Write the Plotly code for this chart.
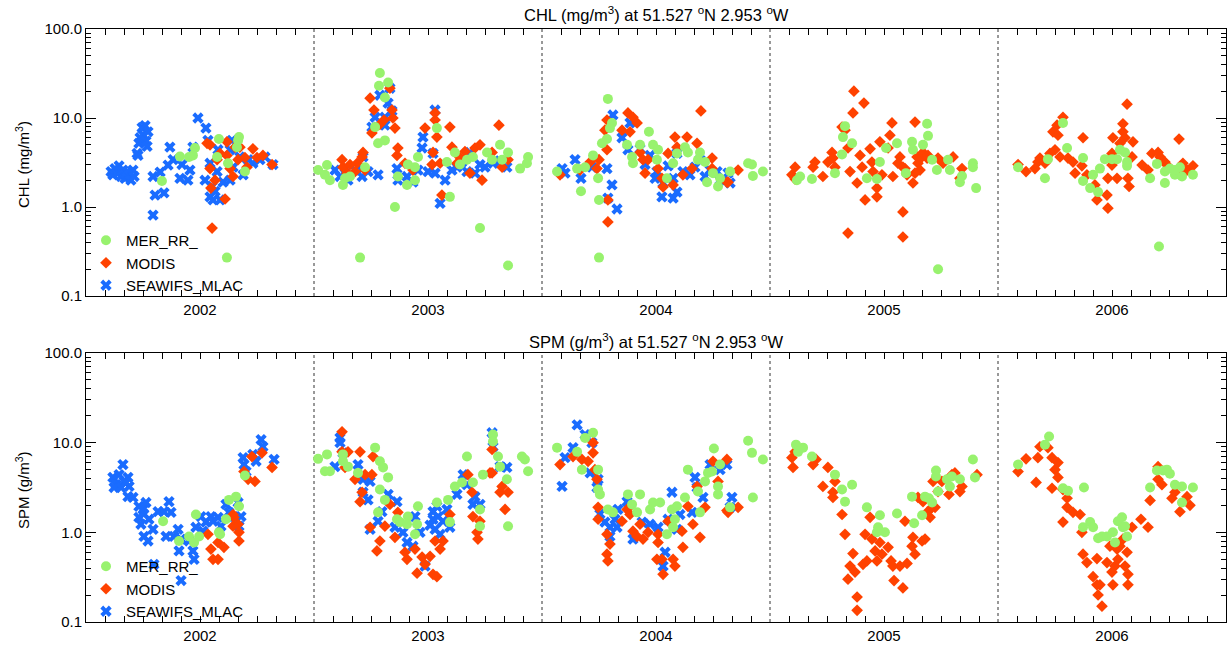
import plotly.graph_objects as go

# ---------------- DATA (decimal year, value) ----------------
years = [2002, 2003, 2004, 2005, 2006]
year_labels = ["2002", "2003", "2004", "2005", "2006"]
y_tick_vals = [0.1, 1, 10, 100]
y_tick_text = ["0.1", "1.0", "10.0", "100.0"]

# CHL (mg/m3)
chl_seawifs_t = [
    2002.110, 2002.118, 2002.127, 2002.136, 2002.145, 2002.154, 2002.162, 2002.171, 2002.180, 2002.189,
    2002.197, 2002.206, 2002.211, 2002.224, 2002.228, 2002.232, 2002.237, 2002.246, 2002.250, 2002.259,
    2002.263, 2002.268, 2002.272, 2002.294, 2002.303, 2002.294, 2002.342, 2002.325, 2002.368, 2002.360,
    2002.382, 2002.412, 2002.421, 2002.447, 2002.456, 2002.469, 2002.491, 2002.526, 2002.522, 2002.544,
    2002.557, 2002.588, 2002.544, 2002.575, 2002.579, 2002.601, 2002.632, 2002.632, 2002.645, 2002.675,
    2002.689, 2002.711, 2002.732, 2002.763, 2002.785, 2002.820, 2002.535, 2002.640, 2002.566, 2002.553,
    2003.092, 2003.114, 2003.149, 2003.180, 2003.211, 2003.215, 2003.211, 2003.281, 2003.254, 2003.268,
    2003.289, 2003.333, 2003.311, 2003.325, 2003.311, 2003.364, 2003.368, 2003.408, 2003.456, 2003.434,
    2003.478, 2003.474, 2003.531, 2003.522, 2003.531, 2003.553, 2003.575, 2003.627, 2003.671, 2003.684,
    2003.706, 2003.750, 2003.785, 2003.846, 2003.136, 2003.237, 2003.342, 2003.500, 2003.605, 2003.649,
    2003.728, 2003.816,
    2004.088, 2004.101, 2004.145, 2004.171, 2004.219, 2004.285, 2004.307, 2004.289, 2004.329, 2004.311,
    2004.351, 2004.377, 2004.386, 2004.474, 2004.504, 2004.496, 2004.531, 2004.526, 2004.575, 2004.592,
    2004.575, 2004.618, 2004.649, 2004.592, 2004.693, 2004.737, 2004.768, 2004.816, 2004.825, 2004.430,
    2004.452, 2004.553, 2004.671, 2004.715, 2004.781]
chl_seawifs_v = [
    2.5, 2.3, 2.7, 2.4, 2.9, 2.2, 2.6, 2.1, 2.5, 2.3,
    2.0, 2.6, 2.2, 4.0, 3.8, 5.2, 6.0, 7.8, 6.5, 8.2,
    5.5, 4.8, 7.0, 2.2, 1.36, 0.81, 1.44, 2.47, 4.7, 2.96,
    3.4, 2.1, 3.0, 2.0, 2.6, 4.7, 10, 7.7, 2.0, 1.3,
    1.2, 1.2, 3.1, 2.5, 4.4, 1.9, 2.0, 4.4, 2.8, 3.65,
    2.3, 3.4, 3.1, 3.4, 3.65, 3.0, 5.6, 5.6, 1.5, 1.7,
    2.6, 2.2, 2.0, 2.6, 2.2, 3.65, 2.7, 2.3, 7.9, 10.2,
    18, 21.6, 10.2, 14.7, 8.3, 2.7, 2.0, 2.2, 2.6, 1.9,
    6.1, 4.6, 12.3, 4.0, 2.4, 1.1, 2.0, 2.8, 2.5, 4.1,
    2.4, 2.8, 3.1, 2.8, 2.4, 2.5, 12, 2.5, 2.6, 3.2,
    3.0, 3.3,
    2.7, 2.4, 3.4, 2.1, 2.8, 2.7, 1.77, 1.26, 0.95, 10.8,
    6.0, 4.4, 8.8, 3.8, 2.5, 2.1, 1.86, 1.3, 1.26, 1.47,
    2.1, 2.5, 2.3, 4.0, 3.4, 2.6, 2.5, 2.4, 1.86, 4.5,
    3.0, 2.9, 2.8, 2.2, 2.0]

chl_modis_t = [
    2002.531, 2002.544, 2002.566, 2002.548, 2002.553, 2002.610, 2002.618, 2002.618, 2002.632, 2002.645,
    2002.654, 2002.675, 2002.667, 2002.697, 2002.706, 2002.732, 2002.750, 2002.776, 2002.816, 2002.575,
    2002.588, 2002.544,
    2003.123, 2003.127, 2003.145, 2003.189, 2003.211, 2003.215, 2003.224, 2003.246, 2003.263, 2003.254,
    2003.333, 2003.342, 2003.346, 2003.355, 2003.364, 2003.368, 2003.399, 2003.434, 2003.487, 2003.522,
    2003.531, 2003.531, 2003.539, 2003.518, 2003.561, 2003.553, 2003.596, 2003.605, 2003.627, 2003.684,
    2003.706, 2003.728, 2003.737, 2003.781, 2003.811, 2003.825, 2003.851, 2003.158, 2003.180, 2003.289,
    2003.307, 2003.640, 2003.662,
    2004.079, 2004.167, 2004.211, 2004.241, 2004.250, 2004.285, 2004.285, 2004.289, 2004.289, 2004.276,
    2004.351, 2004.377, 2004.399, 2004.417, 2004.386, 2004.430, 2004.443, 2004.465, 2004.452, 2004.509,
    2004.526, 2004.531, 2004.553, 2004.583, 2004.592, 2004.575, 2004.618, 2004.636, 2004.658, 2004.680,
    2004.697, 2004.746, 2004.746, 2004.811, 2004.860, 2004.816,
    2005.110, 2005.096, 2005.110, 2005.189, 2005.197, 2005.232, 2005.254, 2005.272, 2005.276, 2005.285,
    2005.316, 2005.329, 2005.342, 2005.351, 2005.342, 2005.368, 2005.364, 2005.412, 2005.382, 2005.395,
    2005.404, 2005.417, 2005.439, 2005.447, 2005.452, 2005.469, 2005.469, 2005.482, 2005.491, 2005.526,
    2005.535, 2005.518, 2005.539, 2005.561, 2005.570, 2005.583, 2005.583, 2005.583, 2005.592, 2005.601,
    2005.636, 2005.645, 2005.649, 2005.658, 2005.667, 2005.671, 2005.689, 2005.693, 2005.636, 2005.627,
    2005.737, 2005.759, 2005.803, 2005.842, 2005.833,
    2006.088, 2006.123, 2006.162, 2006.175, 2006.184, 2006.206, 2006.228, 2006.250, 2006.241, 2006.259,
    2006.285, 2006.263, 2006.272, 2006.307, 2006.329, 2006.338, 2006.373, 2006.368, 2006.390, 2006.425,
    2006.434, 2006.478, 2006.482, 2006.482, 2006.500, 2006.504, 2006.500, 2006.522, 2006.535, 2006.548,
    2006.548, 2006.557, 2006.566, 2006.570, 2006.575, 2006.588, 2006.592, 2006.632, 2006.658, 2006.675,
    2006.702, 2006.711, 2006.732, 2006.741, 2006.794, 2006.811, 2006.829, 2006.855, 2006.807]
chl_modis_v = [
    5.2, 2.7, 2.0, 1.63, 0.58, 1.23, 5.4, 3.8, 2.7, 2.2,
    4.7, 4.7, 3.4, 3.6, 2.8, 4.5, 3.6, 3.8, 3.0, 3.4,
    4.0, 5.0,
    3.4, 2.8, 2.4, 3.1, 3.65, 4.1, 2.6, 16.7, 12.3, 6.8,
    21.6, 12.3, 10, 7.7, 3.8, 4.6, 3.1, 2.6, 7.7, 4.1,
    11.4, 9.5, 6.1, 3.0, 1.36, 3.1, 7.9, 4.7, 3.1, 2.4,
    4.6, 5.0, 2.0, 4.1, 8.3, 2.8, 3.4, 3.0, 2.5, 8.5,
    9.5, 3.6, 4.2,
    2.3, 2.6, 3.2, 2.7, 3.4, 9.5, 4.4, 1.2, 0.68, 7.3,
    7.3, 11.4, 10.2, 8.8, 7.0, 4.1, 3.4, 3.4, 2.4, 2.7,
    2.1, 1.68, 4.0, 6.1, 4.7, 1.77, 2.3, 6.1, 2.7, 5.2,
    12, 3.55, 2.7, 1.9, 2.6, 1.9,
    2.8, 2.3, 2.06, 2.8, 3.2, 2.2, 3.2, 4.1, 3.55, 2.8,
    7.9, 7.3, 4.6, 2.5, 0.51, 20, 11.4, 14.7, 1.86, 3.8,
    2.8, 1.2, 4.5, 3.2, 2.5, 1.63, 1.3, 5.4, 2.3, 6.4,
    8.8, 4.6, 2.2, 3.1, 3.65, 2.8, 0.88, 0.46, 2.7, 2.3,
    9.0, 3.65, 3.1, 2.6, 3.65, 4.1, 3.55, 3.8, 2.4, 1.86,
    3.55, 3.1, 3.65, 2.7, 2.1,
    3.0, 2.5, 2.7, 3.2, 3.55, 3.1, 4.0, 4.4, 7.0, 8.3,
    10.2, 6.4, 3.65, 3.55, 3.2, 2.4, 6.0, 2.9, 2.3, 1.77,
    1.2, 1.36, 0.97, 2.1, 4.0, 6.0, 2.96, 2.1, 5.2, 8.6,
    7.0, 6.0, 14.3, 2.1, 1.7, 3.65, 5.4, 2.96, 2.6, 4.0,
    4.1, 3.65, 3.2, 2.96, 5.8, 3.1, 2.6, 2.9, 2.35]

chl_meris_t = [
    2002.333, 2002.412, 2002.452, 2002.478, 2002.469, 2002.583, 2002.575, 2002.623, 2002.662, 2002.671,
    2002.667, 2002.697, 2002.618,
    2003.018, 2003.048, 2003.070, 2003.057, 2003.136, 2003.127, 2003.158, 2003.202, 2003.224, 2003.289,
    2003.285, 2003.325, 2003.311, 2003.268, 2003.281, 2003.311, 2003.355, 2003.368, 2003.408, 2003.412,
    2003.443, 2003.456, 2003.539, 2003.596, 2003.583, 2003.618, 2003.640, 2003.671, 2003.697, 2003.728,
    2003.759, 2003.781, 2003.816, 2003.825, 2003.851, 2003.851, 2003.904, 2003.939, 2003.934, 2003.443,
    2004.066, 2004.154, 2004.171, 2004.189, 2004.224, 2004.246, 2004.250, 2004.250, 2004.263, 2004.285,
    2004.289, 2004.307, 2004.298, 2004.373, 2004.395, 2004.399, 2004.430, 2004.469, 2004.487, 2004.509,
    2004.504, 2004.548, 2004.575, 2004.592, 2004.627, 2004.640, 2004.693, 2004.684, 2004.715, 2004.724,
    2004.750, 2004.772, 2004.781, 2004.825, 2004.904, 2004.921, 2004.925, 2004.969,
    2005.118, 2005.132, 2005.184, 2005.285, 2005.316, 2005.320, 2005.329, 2005.360, 2005.425, 2005.469,
    2005.482, 2005.509, 2005.557, 2005.596, 2005.623, 2005.627, 2005.671, 2005.689, 2005.693, 2005.711,
    2005.732, 2005.737, 2005.781, 2005.789, 2005.833, 2005.842, 2005.890, 2005.890, 2005.904,
    2006.088, 2006.206, 2006.219, 2006.285, 2006.303, 2006.373, 2006.373, 2006.404, 2006.417, 2006.439,
    2006.447, 2006.469, 2006.500, 2006.522, 2006.535, 2006.557, 2006.566, 2006.566, 2006.667, 2006.697,
    2006.706, 2006.732, 2006.732, 2006.754, 2006.776, 2006.798, 2006.807, 2006.855, 2006.776]
chl_meris_v = [
    1.96, 3.7, 3.65, 4.6, 3.8, 5.8, 3.65, 3.1, 4.7, 6.1,
    5.6, 2.5, 0.27,
    2.6, 2.3, 2.0, 2.96, 2.1, 1.77, 2.2, 0.27, 2.8, 32,
    23, 25, 17, 7.9, 5.2, 5.6, 1.0, 2.2, 1.77, 3.0,
    2.8, 3.65, 7.7, 1.3, 3.2, 4.1, 3.0, 3.4, 3.65, 0.58,
    4.1, 3.4, 5.0, 3.4, 0.22, 4.1, 2.7, 3.65, 3.1, 2.0,
    2.5, 2.7, 1.5, 2.8, 3.8, 2.1, 1.2, 0.27, 5.2, 5.8,
    16.4, 8.8, 7.7, 5.0, 3.65, 3.1, 5.0, 7.0, 5.0, 4.4,
    3.4, 2.1, 3.1, 4.0, 4.7, 4.1, 4.1, 3.4, 3.2, 1.9,
    2.4, 1.7, 2.1, 2.5, 3.1, 3.0, 2.23, 2.5,
    2.0, 2.2, 2.06, 2.4, 3.9, 6.1, 8.1, 5.2, 2.1, 2.06,
    3.2, 4.6, 5.2, 2.4, 5.4, 4.4, 5.0, 8.6, 6.3, 3.4,
    2.6, 0.2, 3.4, 2.6, 1.9, 2.23, 3.1, 2.8, 1.63,
    2.8, 2.1, 3.45, 8.8, 4.6, 3.55, 1.96, 1.63, 2.3, 1.47,
    2.7, 3.45, 3.45, 3.45, 4.4, 4.1, 2.9, 3.2, 2.1, 3.05,
    0.36, 1.86, 2.5, 2.7, 2.3, 2.8, 2.2, 2.3, 2.6]

# SPM (g/m3)
spm_seawifs_t = [
    2002.118, 2002.132, 2002.145, 2002.162, 2002.167, 2002.184, 2002.189, 2002.123, 2002.154, 2002.175,
    2002.184, 2002.206, 2002.232, 2002.250, 2002.254, 2002.232, 2002.241, 2002.263, 2002.276, 2002.254,
    2002.272, 2002.294, 2002.316, 2002.342, 2002.364, 2002.373, 2002.351, 2002.386, 2002.404, 2002.417,
    2002.408, 2002.298, 2002.417, 2002.452, 2002.469, 2002.474, 2002.482, 2002.504, 2002.526, 2002.548,
    2002.557, 2002.579, 2002.592, 2002.614, 2002.627, 2002.649, 2002.671, 2002.680, 2002.689, 2002.693,
    2002.702, 2002.732, 2002.746, 2002.768, 2002.776, 2002.825, 2002.513, 2002.667,
    2003.114, 2003.114, 2003.127, 2003.092, 2003.193, 2003.215, 2003.246, 2003.215, 2003.237, 2003.246,
    2003.281, 2003.298, 2003.325, 2003.364, 2003.355, 2003.390, 2003.408, 2003.443, 2003.434, 2003.487,
    2003.522, 2003.531, 2003.539, 2003.553, 2003.583, 2003.596, 2003.627, 2003.654, 2003.671, 2003.697,
    2003.706, 2003.728, 2003.781, 2003.785, 2003.816, 2003.846, 2003.522, 2003.566, 2003.509, 2003.544,
    2003.465,
    2004.088, 2004.101, 2004.154, 2004.136, 2004.189, 2004.219, 2004.211, 2004.241, 2004.246, 2004.276,
    2004.298, 2004.329, 2004.333, 2004.298, 2004.373, 2004.399, 2004.439, 2004.474, 2004.509, 2004.540,
    2004.531, 2004.570, 2004.553, 2004.592, 2004.605, 2004.658, 2004.671, 2004.680, 2004.706, 2004.737,
    2004.781, 2004.811, 2004.833, 2004.825, 2004.254, 2004.320]
spm_seawifs_v = [
    4.1, 3.4, 4.4, 5.7, 3.7, 4.1, 3.25, 3.16, 3.16, 3.6,
    2.5, 2.45, 1.95, 1.8, 1.6, 1.47, 1.23, 2.15, 1.4, 0.9,
    0.8, 1.08, 1.7, 1.7, 2.2, 1.67, 0.9, 0.9, 1.08, 0.84,
    0.62, 0.44, 0.29, 0.8, 0.62, 0.5, 1.14, 1.5, 1.3, 1.5,
    1.33, 1.47, 1.17, 2.05, 1.67, 1.5, 1.17, 1.5, 6.8, 5.7,
    4.76, 7.4, 6.2, 10.8, 9.0, 6.5, 1.03, 2.15,
    11.3, 10, 7.7, 5.4, 5.7, 3.9, 3.7, 2.8, 2.3, 1.08,
    1.33, 1.7, 2.65, 2.2, 1.14, 1.0, 0.77, 1.5, 0.7, 0.42,
    1.4, 1.08, 1.95, 0.95, 1.8, 1.14, 2.65, 4.4, 3.4, 2.05,
    2.5, 2.05, 12.9, 9.0, 5.4, 5.3, 1.7, 1.33, 1.2, 1.5,
    1.0,
    3.25, 6.8, 15.8, 8.8, 12.3, 10, 4.6, 3.16, 3.9, 1.3,
    1.14, 1.14, 1.8, 0.9, 2.2, 0.84, 1.3, 1.23, 1.14, 0.6,
    0.42, 2.8, 1.4, 1.08, 1.58, 1.67, 4.1, 3.16, 2.45, 5.7,
    5.0, 5.7, 2.45, 1.9, 1.6, 1.4]

spm_modis_t = [
    2002.535, 2002.548, 2002.557, 2002.579, 2002.579, 2002.605, 2002.645, 2002.645, 2002.667, 2002.671,
    2002.671, 2002.693, 2002.711, 2002.741, 2002.728, 2002.772, 2002.816, 2002.649,
    2003.123, 2003.123, 2003.149, 2003.136, 2003.180, 2003.202, 2003.224, 2003.211, 2003.202, 2003.246,
    2003.259, 2003.254, 2003.289, 2003.276, 2003.311, 2003.333, 2003.355, 2003.368, 2003.399, 2003.408,
    2003.443, 2003.452, 2003.474, 2003.487, 2003.509, 2003.522, 2003.539, 2003.531, 2003.553, 2003.566,
    2003.596, 2003.675, 2003.693, 2003.697, 2003.715, 2003.719, 2003.728, 2003.781, 2003.781, 2003.816,
    2003.838, 2003.851, 2003.825, 2003.772,
    2004.079, 2004.136, 2004.175, 2004.202, 2004.224, 2004.224, 2004.232, 2004.241, 2004.246, 2004.246,
    2004.285, 2004.285, 2004.289, 2004.298, 2004.351, 2004.373, 2004.386, 2004.399, 2004.417, 2004.430,
    2004.443, 2004.465, 2004.509, 2004.509, 2004.504, 2004.526, 2004.531, 2004.553, 2004.575, 2004.583,
    2004.614, 2004.618, 2004.640, 2004.662, 2004.680, 2004.693, 2004.715, 2004.750, 2004.772, 2004.811,
    2004.816, 2004.860, 2004.811,
    2005.096, 2005.101, 2005.110, 2005.189, 2005.202, 2005.232, 2005.254, 2005.276, 2005.276, 2005.285,
    2005.316, 2005.329, 2005.342, 2005.351, 2005.364, 2005.373, 2005.382, 2005.382, 2005.408, 2005.417,
    2005.425, 2005.439, 2005.447, 2005.461, 2005.469, 2005.482, 2005.491, 2005.518, 2005.531, 2005.539,
    2005.544, 2005.570, 2005.583, 2005.601, 2005.592, 2005.623, 2005.627, 2005.636, 2005.649, 2005.671,
    2005.667, 2005.680, 2005.689, 2005.702, 2005.711, 2005.715, 2005.724, 2005.737, 2005.754, 2005.785,
    2005.798, 2005.811, 2005.833, 2005.842, 2005.908,
    2006.088, 2006.123, 2006.167, 2006.175, 2006.184, 2006.219, 2006.237, 2006.237, 2006.250, 2006.263,
    2006.263, 2006.285, 2006.303, 2006.303, 2006.329, 2006.360, 2006.285, 2006.368, 2006.373, 2006.390,
    2006.434, 2006.417, 2006.434, 2006.447, 2006.439, 2006.456, 2006.478, 2006.491, 2006.500, 2006.504,
    2006.513, 2006.522, 2006.526, 2006.535, 2006.548, 2006.557, 2006.566, 2006.570, 2006.570, 2006.588,
    2006.627, 2006.658, 2006.667, 2006.702, 2006.702, 2006.719, 2006.763, 2006.776, 2006.798, 2006.829,
    2006.842]
spm_modis_v = [
    0.95, 0.65, 0.5, 0.5, 0.77, 0.68, 1.58, 1.17, 1.23, 1.0,
    0.8, 4.76, 3.9, 3.7, 7.0, 7.7, 5.3, 1.47,
    13.2, 7.9, 7.9, 5.3, 3.9, 7.9, 4.4, 2.8, 2.2, 1.14,
    7.0, 4.4, 0.8, 0.62, 1.17, 2.05, 0.88, 1.67, 0.6, 0.5,
    0.65, 0.35, 0.53, 0.44, 0.54, 0.34, 0.32, 0.8, 0.65, 0.8,
    1.58, 4.4, 2.8, 1.5, 1.0, 0.84, 1.33, 8.4, 4.6, 2.8,
    1.8, 2.8, 3.25, 4.6,
    5.7, 7.0, 6.5, 6.2, 10, 7.7, 5.0, 3.9, 1.9, 1.4,
    0.95, 0.57, 0.48, 0.74, 1.33, 1.8, 1.58, 1.03, 0.9, 1.23,
    0.84, 1.0, 0.95, 0.77, 0.5, 0.5, 0.34, 1.33, 0.5, 0.42,
    1.03, 0.68, 1.95, 1.23, 3.25, 0.88, 1.9, 6.2, 3.7, 6.5,
    1.67, 1.9, 1.75,
    6.8, 5.3, 7.9, 5.7, 6.5, 3.25, 5.3, 2.8, 2.45, 3.7,
    1.58, 0.95, 0.3, 0.42, 0.58, 0.36, 0.19, 0.135, 0.44, 0.95,
    0.48, 1.47, 0.84, 0.62, 0.48, 0.77, 0.57, 0.68, 0.48, 0.42,
    0.29, 0.42, 0.24, 0.45, 1.33, 0.7, 0.88, 0.57, 2.45, 2.2,
    0.8, 0.84, 1.67, 1.47, 1.9, 3.7, 1.9, 2.85, 3.7, 2.65,
    4.4, 4.6, 2.85, 3.25, 4.4,
    4.76, 6.6, 3.6, 6.8, 9.0, 8.8, 6.8, 3.1, 5.0, 6.0,
    4.1, 3.0, 2.4, 1.9, 1.67, 1.58, 1.3, 1.0, 0.57, 0.46,
    0.51, 0.32, 0.26, 0.26, 0.2, 0.15, 0.46, 0.7, 0.36, 0.26,
    0.42, 0.65, 0.5, 0.7, 0.84, 0.42, 0.6, 0.34, 0.26, 1.14,
    1.4, 1.14, 2.27, 3.9, 5.4, 3.4, 2.4, 2.8, 1.7, 2.5,
    2.0]

spm_meris_t = [
    2002.338, 2002.408, 2002.452, 2002.474, 2002.482, 2002.583, 2002.614, 2002.627, 2002.658, 2002.671,
    2002.697, 2002.496, 2002.588,
    2003.018, 2003.048, 2003.070, 2003.057, 2003.127, 2003.127, 2003.149, 2003.193, 2003.268, 2003.289,
    2003.303, 2003.325, 2003.289, 2003.311, 2003.281, 2003.364, 2003.377, 2003.412, 2003.408, 2003.443,
    2003.452, 2003.456, 2003.539, 2003.596, 2003.588, 2003.618, 2003.649, 2003.671, 2003.697, 2003.728,
    2003.728, 2003.741, 2003.785, 2003.785, 2003.807, 2003.816, 2003.846, 2003.851, 2003.912, 2003.925,
    2003.939,
    2004.066, 2004.154, 2004.189, 2004.224, 2004.175, 2004.246, 2004.246, 2004.254, 2004.289, 2004.311,
    2004.377, 2004.395, 2004.417, 2004.430, 2004.474, 2004.487, 2004.518, 2004.548, 2004.570, 2004.575,
    2004.583, 2004.592, 2004.627, 2004.640, 2004.684, 2004.693, 2004.715, 2004.728, 2004.746, 2004.754,
    2004.781, 2004.772, 2004.772, 2004.825, 2004.904, 2004.921, 2004.969, 2004.925,
    2005.114, 2005.123, 2005.145, 2005.184, 2005.285, 2005.316, 2005.329, 2005.360, 2005.425, 2005.482,
    2005.469, 2005.474, 2005.504, 2005.557, 2005.623, 2005.632, 2005.667, 2005.680, 2005.697, 2005.711,
    2005.728, 2005.728, 2005.737, 2005.776, 2005.789, 2005.798, 2005.833, 2005.890, 2005.899,
    2006.088, 2006.206, 2006.224, 2006.285, 2006.307, 2006.377, 2006.373, 2006.404, 2006.417, 2006.439,
    2006.456, 2006.478, 2006.504, 2006.513, 2006.526, 2006.544, 2006.548, 2006.566, 2006.557, 2006.667,
    2006.697, 2006.724, 2006.741, 2006.754, 2006.776, 2006.807, 2006.807, 2006.855]
spm_meris_v = [
    1.33, 0.8, 0.9, 0.77, 1.58, 1.0, 1.4, 2.3, 2.5, 1.95,
    4.3, 0.9, 0.95,
    6.6, 4.8, 4.8, 7.4, 7.4, 6.2, 5.4, 4.6, 8.8, 6.2,
    5.3, 4.1, 3.0, 2.3, 1.67, 1.4, 1.3, 1.5, 1.23, 0.95,
    1.23, 1.95, 2.15, 1.3, 2.3, 3.25, 3.6, 7.0, 3.6, 1.8,
    1.17, 4.4, 12.3, 10.3, 7.0, 5.4, 3.9, 1.17, 7.0, 6.5,
    4.8,
    8.8, 7.9, 11.3, 12.9, 5.0, 5.0, 3.0, 2.65, 1.8, 1.67,
    2.65, 2.05, 1.67, 2.65, 1.8, 2.15, 2.15, 0.95, 1.8, 1.14,
    1.4, 1.95, 2.45, 5.0, 2.85, 1.67, 3.7, 4.6, 4.76, 8.6,
    5.7, 3.25, 2.65, 1.9, 10.5, 7.7, 6.5, 2.45,
    9.5, 7.9, 8.8, 7.0, 4.4, 3.0, 2.2, 3.4, 1.9, 1.55,
    1.0, 1.14, 1.0, 1.62, 2.5, 1.26, 1.55, 2.5, 2.4, 2.15,
    4.9, 4.2, 2.85, 3.9, 3.25, 4.2, 3.9, 6.5, 4.1,
    5.7, 9.5, 11.7, 3.1, 2.9, 3.16, 1.14, 1.3, 1.14, 0.86,
    0.9, 0.9, 1.0, 0.77, 1.33, 1.47, 1.14, 0.9, 1.17, 3.16,
    4.9, 4.9, 5.0, 4.5, 3.4, 3.25, 2.15, 3.16]

# ---------------- STYLE ----------------
FONT = "Liberation Sans, Arial, Helvetica, sans-serif"
GREEN = "#98F26E"
RED = "#FF4200"
BLUE = "#1A6CFF"

fig = go.Figure()

panels = [
    ("x", "y", "legend", chl_seawifs_t, chl_seawifs_v, chl_modis_t, chl_modis_v, chl_meris_t, chl_meris_v),
    ("x2", "y2", "legend2", spm_seawifs_t, spm_seawifs_v, spm_modis_t, spm_modis_v, spm_meris_t, spm_meris_v),
]
for xa, ya, lg, st, sv, mt, mv, et, ev in panels:
    fig.add_trace(go.Scatter(x=st, y=sv, mode="markers", name="SEAWIFS_MLAC", xaxis=xa, yaxis=ya,
                             legend=lg, marker=dict(symbol="x", size=10, color=BLUE, line=dict(width=0))))
    fig.add_trace(go.Scatter(x=mt, y=mv, mode="markers", name="MODIS", xaxis=xa, yaxis=ya,
                             legend=lg, marker=dict(symbol="diamond", size=9, color=RED, line=dict(width=0))))
    fig.add_trace(go.Scatter(x=et, y=ev, mode="markers", name="MER_RR_", xaxis=xa, yaxis=ya,
                             legend=lg, marker=dict(symbol="circle", size=10, color=GREEN, line=dict(width=0))))

month_ticks = [y + m / 12 for y in years for m in range(1, 12)]
minor_log = [k * 10 ** e for e in (-1, 0, 1) for k in range(2, 10)]

xcommon = dict(range=[2002, 2007], tickvals=[y + 0.5 for y in years], ticktext=year_labels,
               ticks="inside", ticklen=6, tickcolor="black", mirror="allticks", showline=True,
               linecolor="black", linewidth=1, showgrid=False, zeroline=False, automargin=False,
               tickfont=dict(family=FONT, size=15, color="black"),
               minor=dict(tickvals=month_ticks, ticks="inside", ticklen=6, tickcolor="black", showgrid=False))
ycommon = dict(type="log", range=[-1, 2], tickvals=y_tick_vals, ticktext=y_tick_text,
               ticks="inside", ticklen=10, tickcolor="black", mirror="allticks", showline=True,
               linecolor="black", linewidth=1, showgrid=False, zeroline=False, automargin=False,
               tickfont=dict(family=FONT, size=15, color="black"),
               minor=dict(tickvals=minor_log, ticks="inside", ticklen=5, tickcolor="black", showgrid=False))

H = 646.0
top_dom = [1 - 296 / H, 1 - 29 / H]
bot_dom = [1 - 622 / H, 1 - 353 / H]

fig.update_layout(
    width=1227, height=646,
    margin=dict(l=86, r=1, t=0, b=0, autoexpand=False),
    paper_bgcolor="white", plot_bgcolor="white",
    font=dict(family=FONT, size=15, color="black"),
    xaxis=dict(anchor="y", domain=[0, 1], **xcommon),
    yaxis=dict(anchor="x", domain=top_dom, **ycommon),
    xaxis2=dict(anchor="y2", domain=[0, 1], **xcommon),
    yaxis2=dict(anchor="x2", domain=bot_dom, **ycommon),
    legend=dict(x=0.0, y=1 - 224 / H, xanchor="left", yanchor="top", traceorder="reversed",
                bgcolor="rgba(0,0,0,0)", font=dict(family=FONT, size=15, color="black"),
                itemsizing="trace", tracegroupgap=0),
    legend2=dict(x=0.0, y=1 - 550 / H, xanchor="left", yanchor="top", traceorder="reversed",
                 bgcolor="rgba(0,0,0,0)", font=dict(family=FONT, size=15, color="black"),
                 itemsizing="trace", tracegroupgap=0),
)

shapes = []
for xr, yr in (("x", "y domain"), ("x2", "y2 domain")):
    for y in years[1:]:
        shapes.append(dict(type="line", xref=xr, yref=yr, x0=y, x1=y, y0=0, y1=1,
                           line=dict(color="#333333", width=1, dash="dot"), layer="below"))
fig.update_layout(shapes=shapes)

annots = [
    dict(text="CHL (mg/m<sup>3</sup>) at 51.527 <sup>o</sup>N 2.953 <sup>o</sup>W", x=0.5, y=1 - 14 / H),
    dict(text="SPM (g/m<sup>3</sup>) at 51.527 <sup>o</sup>N 2.953 <sup>o</sup>W", x=0.5, y=1 - 341 / H),
]
for a in annots:
    fig.add_annotation(xref="paper", yref="paper", showarrow=False, xanchor="center", yanchor="middle",
                       font=dict(family=FONT, size=16.5, color="black"), **a)
for txt, yc in (("CHL (mg/m<sup>3</sup>)", 165), ("SPM (g/m<sup>3</sup>)", 490)):
    fig.add_annotation(text=txt, xref="paper", yref="paper", x=(22 - 86) / 1140, y=1 - yc / H,
                       showarrow=False, textangle=-90, xanchor="center", yanchor="middle",
                       font=dict(family=FONT, size=15, color="black"))

fig.write_html("out.html", config={"displayModeBar": False},
               post_script="document.body.style.margin='0';document.body.style.overflow='hidden';")
